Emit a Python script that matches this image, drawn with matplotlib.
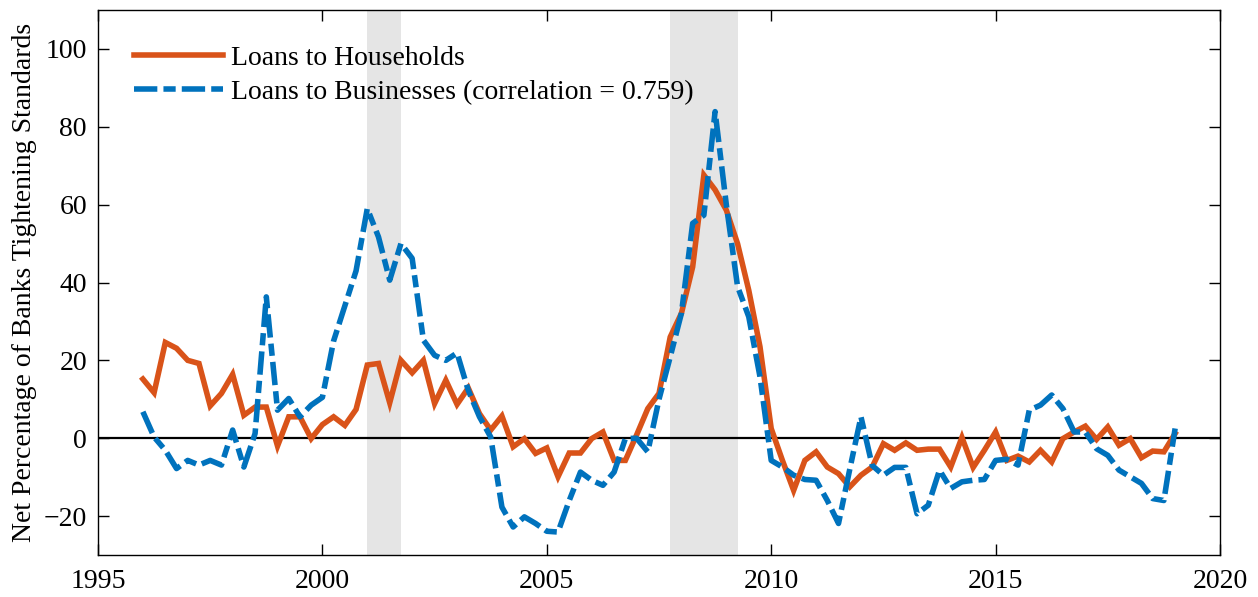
import numpy as np
import matplotlib
matplotlib.use("Agg")
import matplotlib.pyplot as plt

# Quarterly dates 1996Q1 .. 2019Q1
start_year = 1996.0
households = [15.2, 11.7, 24.6, 23.1, 20.0, 19.2, 8.3, 11.5, 16.4, 5.9, 8.0, 8.0, -2.0, 5.5, 5.5, -0.1,
              3.5, 5.5, 3.3, 7.4, 18.8, 19.2, 9.1, 20.0, 16.8, 20.0, 8.9, 14.9, 8.7, 12.9, 6.3, 2.1,
              5.7, -2.2, -0.1, -3.9, -2.5, -9.9, -3.8, -3.8, -0.1, 1.6, -5.7, -5.7, 0.8, 7.6, 11.5, 26.0,
              32.1, 44.0, 67.6, 63.8, 58.6, 50.0, 38.0, 23.5, 2.5, -5.7, -13.4, -5.7, -3.5, -7.4, -9.1, -12.5,
              -9.5, -7.4, -1.4, -3.1, -1.2, -3.1, -2.8, -2.8, -7.4, 0.2, -7.5, -3.1, 1.6, -5.7, -4.6, -6.1,
              -3.1, -6.1, -0.1, 1.6, 3.1, -0.3, 2.9, -1.8, -0.1, -5.0, -3.3, -3.5, 1.2]
businesses = [6.8, 0.3, -3.1, -7.8, -5.7, -6.9, -5.7, -6.9, 2.1, -7.4, 1.2, 36.3, 7.2, 10.2, 5.5, 8.5,
              10.5, 25.0, 34.0, 43.0, 59.0, 51.7, 40.6, 50.0, 46.2, 25.2, 21.3, 20.0, 21.9, 12.3, 5.5, 0.3,
              -17.7, -22.8, -20.2, -21.9, -23.9, -24.1, -16.0, -8.7, -10.8, -12.1, -8.7, -0.1, 0.0, -3.5, 10.0, 20.9,
              32.1, 55.2, 57.3, 83.9, 60.0, 39.0, 31.2, 15.8, -5.7, -7.4, -9.5, -10.6, -10.8, -16.0, -21.9, -8.0,
              5.5, -7.0, -9.5, -7.5, -7.5, -19.4, -17.2, -8.2, -12.9, -11.2, -10.8, -10.6, -5.7, -5.4, -6.9, 7.2,
              8.5, 11.1, 7.6, 1.6, 1.6, -2.7, -4.4, -8.2, -9.9, -11.6, -15.5, -16.0, 2.5]
recessions = [(2001.0, 2001.75), (2007.75, 2009.25)]
label_households = "Loans to Households"
label_businesses = "Loans to Businesses (correlation = 0.759)"
ylabel = "Net Percentage of Banks Tightening Standards"
xticks = [1995, 2000, 2005, 2010, 2015, 2020]
yticks = [-20, 0, 20, 40, 60, 80, 100]

dates = start_year + 0.25 * np.arange(len(households))

plt.rcParams['font.family'] = ['Liberation Serif', 'DejaVu Serif']

fig = plt.figure(figsize=(12.58, 5.97), dpi=100)
ax = fig.add_axes([98/1258, 42/597, 1122/1258, 545/597])

for a, b in recessions:
    ax.axvspan(a, b, color='#e5e5e5', lw=0, zorder=0)
ax.axhline(0, color='black', lw=1.6, zorder=1)

orange = '#D95319'
blue = '#0072BD'
ax.plot(dates, households, color=orange, lw=4.0, label=label_households, zorder=3,
        solid_joinstyle='miter')
ax.plot(dates, businesses, color=blue, lw=4.0, label=label_businesses, zorder=4,
        dashes=(4.2, 1.1, 2.2, 1.1), dash_capstyle='butt')

ax.set_xlim(1995, 2020)
ax.set_ylim(-30, 110)
ax.set_xticks(xticks)
ax.set_yticks(yticks)
ax.tick_params(direction='in', length=8, width=1.0, top=True, right=True,
               labelsize=20, colors='black')
ax.tick_params(axis='x', pad=10)
ax.tick_params(axis='y', pad=8)
for s in ax.spines.values():
    s.set_linewidth(1.0)
ax.set_ylabel(ylabel, fontsize=20, labelpad=5)

leg = ax.legend(loc='upper left', frameon=False, fontsize=20, handlelength=3.2,
                handletextpad=0.3, borderaxespad=0.0, labelspacing=0.3,
                bbox_to_anchor=(0.022, 0.955))

fig.savefig('out.png', dpi=100)
